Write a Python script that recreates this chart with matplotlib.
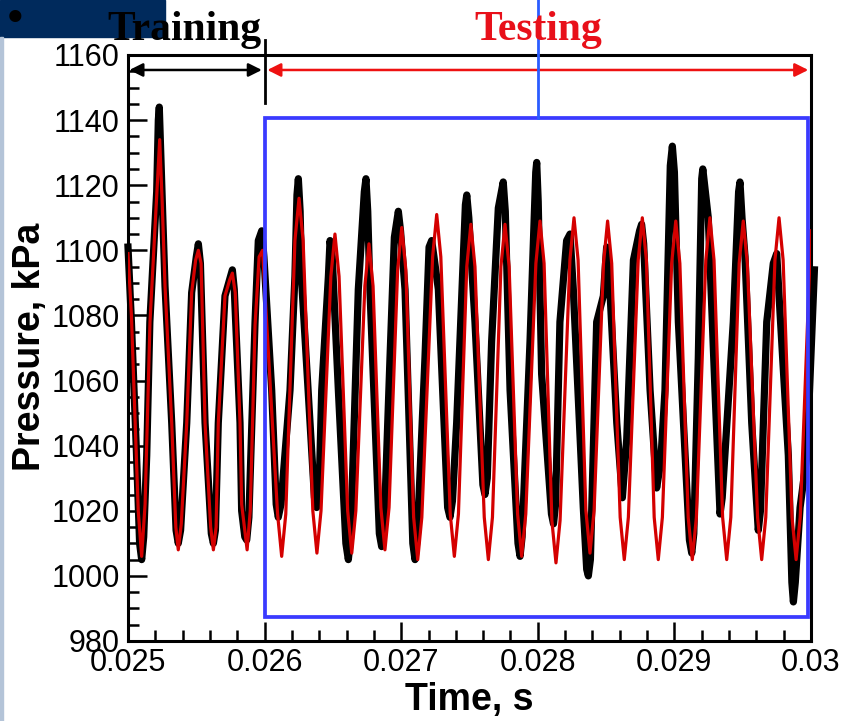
import matplotlib
matplotlib.use("Agg")
import matplotlib.pyplot as plt
import numpy as np
from matplotlib.patches import Rectangle
from matplotlib.ticker import MultipleLocator, FuncFormatter

t_exp_ms = [25.000, 25.025, 25.060, 25.085, 25.100, 25.115, 25.137, 25.160, 25.210, 25.222,
            25.229, 25.238, 25.271, 25.320, 25.352, 25.368, 25.385, 25.430, 25.466, 25.500,
            25.515, 25.530, 25.564, 25.610, 25.625, 25.640, 25.661, 25.710, 25.750, 25.764,
            25.778, 25.820, 25.832, 25.855, 25.869, 25.885, 25.930, 25.954, 25.979, 25.995,
            26.052, 26.085, 26.100, 26.120, 26.186, 26.222, 26.237, 26.247, 26.260, 26.272,
            26.333, 26.365, 26.381, 26.400, 26.418, 26.467, 26.479, 26.495, 26.540, 26.595,
            26.613, 26.630, 26.686, 26.730, 26.742, 26.755, 26.771, 26.840, 26.857, 26.875,
            26.918, 26.950, 26.979, 26.995, 27.028, 27.085, 27.101, 27.118, 27.174, 27.204,
            27.223, 27.240, 27.272, 27.340, 27.357, 27.375, 27.406, 27.455, 27.470, 27.480,
            27.495, 27.540, 27.598, 27.613, 27.630, 27.662, 27.711, 27.747, 27.762, 27.797,
            27.855, 27.870, 27.885, 27.943, 27.967, 27.985, 27.992, 28.003, 28.028, 28.100,
            28.115, 28.130, 28.162, 28.211, 28.236, 28.260, 28.333, 28.358, 28.370, 28.385,
            28.431, 28.480, 28.504, 28.520, 28.578, 28.619, 28.651, 28.700, 28.745, 28.760,
            28.775, 28.822, 28.870, 28.900, 28.931, 28.970, 28.985, 29.000, 29.029, 29.110,
            29.127, 29.142, 29.175, 29.200, 29.208, 29.248, 29.297, 29.334, 29.350, 29.431,
            29.470, 29.480, 29.495, 29.517, 29.566, 29.614, 29.630, 29.676, 29.724, 29.749,
            29.773, 29.834, 29.860, 29.871, 29.885, 29.920, 29.970, 30.025]
p_exp = [1101, 1078, 1040, 1010, 1005, 1012, 1037, 1078, 1118, 1140,
         1144, 1132, 1089, 1047, 1014, 1010, 1014, 1047, 1087, 1098,
         1102, 1096, 1047, 1013, 1010, 1014, 1047, 1086, 1092, 1094,
         1088, 1047, 1020, 1012, 1011, 1018, 1078, 1103, 1106, 1098,
         1057, 1022, 1018, 1022, 1057, 1092, 1117, 1122, 1112, 1090,
         1047, 1024, 1021, 1028, 1057, 1092, 1103, 1098, 1057, 1010,
         1005, 1012, 1088, 1118, 1122, 1112, 1088, 1013, 1009, 1015,
         1067, 1104, 1112, 1106, 1088, 1010, 1005, 1012, 1067, 1101,
         1103, 1098, 1088, 1021, 1018, 1023, 1047, 1098, 1114, 1117,
         1110, 1078, 1028, 1025, 1030, 1072, 1113, 1121, 1112, 1057,
         1010, 1006, 1012, 1072, 1102, 1124, 1127, 1115, 1062, 1019,
         1016, 1022, 1078, 1103, 1105, 1088, 1021, 1002, 1000, 1005,
         1078, 1086, 1101, 1094, 1047, 1024, 1042, 1097, 1106, 1108,
         1102, 1057, 1027, 1035, 1057, 1126, 1132, 1124, 1078, 1011,
         1007, 1013, 1067, 1122, 1125, 1110, 1057, 1019, 1024, 1078,
         1118, 1121, 1110, 1098, 1047, 1014, 1020, 1078, 1096, 1099,
         1081, 1037, 998, 992, 998, 1021, 1037, 1094]

# model prediction (red), time in ms
t_mod_ms = [25.000, 25.025, 25.075, 25.100, 25.125, 25.161, 25.210, 25.232, 25.250, 25.271,
            25.320, 25.350, 25.368, 25.390, 25.430, 25.466, 25.495, 25.515, 25.535, 25.564,
            25.605, 25.625, 25.645, 25.661, 25.710, 25.745, 25.764, 25.785, 25.820, 25.832,
            25.872, 25.895, 25.930, 25.960, 25.985,
            26.095, 26.125, 26.155, 26.222, 26.252, 26.282, 26.353, 26.383, 26.413,
            26.485, 26.515, 26.545, 26.608, 26.638, 26.668, 26.734, 26.764, 26.794,
            26.851, 26.881, 26.911, 26.974, 27.004, 27.034, 27.091, 27.121, 27.151,
            27.230, 27.260, 27.290, 27.359, 27.389, 27.419, 27.480, 27.510, 27.540,
            27.608, 27.638, 27.668, 27.730, 27.760, 27.790, 27.852, 27.882, 27.912,
            27.986, 28.016, 28.046, 28.103, 28.133, 28.163, 28.235, 28.265, 28.295,
            28.352, 28.382, 28.412, 28.481, 28.511, 28.541, 28.603, 28.633, 28.663,
            28.735, 28.765, 28.795, 28.852, 28.882, 28.912, 28.980, 29.010, 29.040,
            29.101, 29.131, 29.161, 29.230, 29.260, 29.290, 29.353, 29.383, 29.413,
            29.474, 29.504, 29.534, 29.609, 29.639, 29.669, 29.736, 29.766, 29.796,
            29.861, 29.891, 29.921, 30.000]
p_mod = [1099, 1080, 1020, 1006, 1022, 1078, 1117, 1134, 1115, 1089,
         1047, 1015, 1008, 1016, 1047, 1087, 1097, 1100, 1096, 1047,
         1015, 1008, 1015, 1047, 1086, 1091, 1093, 1087, 1047, 1022,
         1008, 1020, 1077, 1098, 1100,
         1019, 1006, 1019, 1103, 1116, 1103, 1020, 1007, 1020,
         1092, 1105, 1092, 1020, 1007, 1020, 1089, 1102, 1089,
         1021, 1008, 1021, 1094, 1107, 1094, 1018, 1005, 1018,
         1098, 1111, 1098, 1019, 1006, 1019, 1095, 1108, 1095,
         1018, 1005, 1018, 1095, 1108, 1095, 1019, 1006, 1019,
         1096, 1109, 1096, 1017, 1004, 1017, 1097, 1110, 1097,
         1020, 1007, 1020, 1096, 1109, 1096, 1018, 1005, 1018,
         1097, 1110, 1097, 1018, 1005, 1018, 1096, 1109, 1096,
         1018, 1005, 1018, 1097, 1110, 1097, 1018, 1005, 1018,
         1096, 1109, 1096, 1018, 1005, 1018, 1097, 1110, 1097,
         1018, 1005, 1018, 1106]

t_exp = np.array(t_exp_ms) / 1000.0
t_mod = np.array(t_mod_ms) / 1000.0

W, H = 846, 721
fig = plt.figure(figsize=(W / 100, H / 100), dpi=100)
ax = fig.add_axes([128 / W, 1 - 641 / H, 683 / W, 586 / H])

ax.plot(t_exp, p_exp, color="black", lw=5.2, solid_joinstyle="round", clip_on=False, zorder=3)
ax.plot(t_mod, p_mod, color="#d40000", lw=2.3, solid_joinstyle="round", zorder=4)

ax.set_xlim(0.025, 0.03)
ax.set_ylim(980, 1160)
ax.xaxis.set_major_locator(MultipleLocator(0.001))
ax.xaxis.set_minor_locator(MultipleLocator(0.0002))
ax.yaxis.set_major_locator(MultipleLocator(20))
ax.yaxis.set_minor_locator(MultipleLocator(5))
ax.xaxis.set_major_formatter(FuncFormatter(lambda v, pos: "%g" % round(v, 4)))
ax.tick_params(which="both", direction="in", width=1.8, colors="black")
ax.tick_params(which="major", length=14, labelsize=22, pad=5)
ax.tick_params(which="minor", length=8)
ax.tick_params(axis="y", pad=6)
for lab in ax.get_xticklabels() + ax.get_yticklabels():
    lab.set_fontfamily("Liberation Sans")
for s in ax.spines.values():
    s.set_linewidth(2.2)

ax.set_xlabel("Time, s", fontsize=27, fontweight="bold", family="Liberation Sans", labelpad=3)
fig.text(30 / W, 1 - 347 / H, "Pressure, kPa", rotation=90, fontsize=27, fontweight="bold",
         family="Liberation Sans", ha="center", va="center")

# testing window
ax.add_patch(Rectangle((0.026, 987.3), 0.003978, 153.3, fill=False, ec="#3a3aff", lw=2.7, zorder=5))
ax.plot([0.028, 0.028], [1140.6, 1177], color="#2a5cff", lw=2, clip_on=False, zorder=5)
ax.plot([0.026, 0.026], [1145.3, 1164.6], color="black", lw=2, clip_on=False, zorder=5)
ax.annotate("", xy=(0.02501, 1155.4), xytext=(0.02598, 1155.4),
            arrowprops=dict(arrowstyle="<|-|>", color="black", lw=1.8, mutation_scale=20,
                            shrinkA=0, shrinkB=0))
ax.annotate("", xy=(0.02602, 1155.4), xytext=(0.02998, 1155.4),
            arrowprops=dict(arrowstyle="<|-|>", color="#ee1111", lw=1.8, mutation_scale=20,
                            shrinkA=0, shrinkB=0))

# slide decorations
fig.patches.append(Rectangle((0, 1 - 37 / H), 165 / W, 37 / H, transform=fig.transFigure,
                             color="#002a5c", zorder=0))
fig.patches.append(Rectangle((0, 0), 2.5 / W, 1 - 37 / H, transform=fig.transFigure,
                             color="#b4c4d8", zorder=0))
fig.text(15 / W, 1 - 20 / H, "\u2022", fontsize=30, color="black", ha="center", va="center",
         family="DejaVu Sans")
fig.text(184 / W, 1 - 40 / H, "Training", fontsize=30, fontweight="bold", family="Liberation Serif",
         ha="center", va="baseline", color="black")
fig.text(538 / W, 1 - 40 / H, "Testing", fontsize=30, fontweight="bold", family="Liberation Serif",
         ha="center", va="baseline", color="#e8101a")

fig.savefig("out.png", dpi=100, facecolor="white")
